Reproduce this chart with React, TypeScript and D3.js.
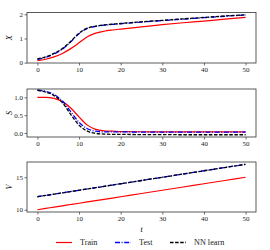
//@ts-nocheck
import { useEffect, useRef } from 'react';
import * as d3 from 'd3';

// time points
const tVals = [0, 2, 4, 6, 8, 10, 12, 14, 16, 18, 20, 25, 30, 35, 40, 45, 50];

// X
const xTrain = [0.08, 0.14, 0.24, 0.38, 0.58, 0.82, 1.07, 1.22, 1.3, 1.35, 1.39, 1.48, 1.57, 1.65, 1.72, 1.8, 1.87];
const xTest = [0.14, 0.22, 0.36, 0.56, 0.86, 1.2, 1.42, 1.5, 1.55, 1.58, 1.61, 1.68, 1.74, 1.8, 1.86, 1.92, 1.97];
const xNN = [0.15, 0.24, 0.38, 0.58, 0.88, 1.22, 1.43, 1.51, 1.56, 1.59, 1.62, 1.69, 1.75, 1.81, 1.87, 1.93, 1.98];

// S
const sTrain = [1.0, 1.0, 0.97, 0.88, 0.7, 0.45, 0.22, 0.1, 0.06, 0.05, 0.04, 0.035, 0.03, 0.03, 0.03, 0.03, 0.03];
const sTest = [1.2, 1.17, 1.08, 0.9, 0.6, 0.3, 0.12, 0.05, 0.03, 0.03, 0.03, 0.025, 0.025, 0.025, 0.025, 0.025, 0.025];
const sNN = [1.2, 1.15, 1.05, 0.85, 0.52, 0.22, 0.05, -0.01, -0.03, -0.04, -0.04, -0.045, -0.045, -0.05, -0.05, -0.05, -0.05];

// V
const vTrain = [10, 10.2, 10.4, 10.6, 10.8, 11, 11.2, 11.4, 11.6, 11.8, 12, 12.5, 13, 13.5, 14, 14.5, 15];
const vTest = [12, 12.2, 12.4, 12.6, 12.8, 13, 13.2, 13.4, 13.6, 13.8, 14, 14.5, 15, 15.5, 16, 16.5, 17];
const vNN = [12, 12.2, 12.4, 12.6, 12.8, 13, 13.2, 13.4, 13.6, 13.8, 14, 14.5, 15, 15.5, 16, 16.5, 17];

const xTicks = [0, 10, 20, 30, 40, 50];
const seriesNames = ['Train', 'Test', 'NN learn'];

const App = () => {
    const svgRef = useRef();

    useEffect(() => {
        const svg = d3.select(svgRef.current);
        svg.selectAll('*').remove();
        const font = 'Liberation Serif, DejaVu Serif, serif';
        const left = 27, right = 256;

        const x = d3.scaleLinear().domain([-2.5, 52.5]).range([left, right]);

        const styles = [
            { color: '#ff0000', dash: null, w: 1.2 },
            { color: '#0000ff', dash: '5,1.6,1,1.6', w: 1.3 },
            { color: '#000000', dash: '3.5,1.6', w: 1.3 },
        ];

        const panels = [
            { label: 'X', top: 12.5, bottom: 63, domain: [-0.015, 2.075], ticks: [0, 1, 2], fmt: d3.format('d'), data: [xTrain, xTest, xNN] },
            { label: 'S', top: 89, bottom: 137, domain: [-0.113, 1.235], ticks: [0, 0.5, 1], fmt: d3.format('.1f'), data: [sTrain, sTest, sNN] },
            { label: 'V', top: 162, bottom: 212, domain: [9.65, 17.35], ticks: [10, 15], fmt: d3.format('d'), data: [vTrain, vTest, vNN] },
        ];

        panels.forEach((p) => {
            const y = d3.scaleLinear().domain(p.domain).range([p.bottom, p.top]);
            const g = svg.append('g');

            // clip
            const clipId = 'clip-' + p.label;
            svg.append('clipPath').attr('id', clipId)
                .append('rect').attr('x', left).attr('y', p.top).attr('width', right - left).attr('height', p.bottom - p.top);

            const line = d3.line()
                .x((d, i) => x(tVals[i]))
                .y((d) => y(d))
                .curve(d3.curveMonotoneX);

            p.data.forEach((arr, k) => {
                const s = styles[k];
                g.append('path')
                    .attr('d', line(arr))
                    .attr('fill', 'none')
                    .attr('stroke', s.color)
                    .attr('stroke-width', s.w)
                    .attr('stroke-dasharray', s.dash)
                    .attr('clip-path', `url(#${clipId})`);
            });

            // frame
            g.append('rect')
                .attr('x', left).attr('y', p.top)
                .attr('width', right - left).attr('height', p.bottom - p.top)
                .attr('fill', 'none').attr('stroke', '#333').attr('stroke-width', 0.8);

            // x axis
            const xa = g.append('g').attr('transform', `translate(0,${p.bottom})`)
                .call(d3.axisBottom(x).tickValues(xTicks).tickSize(2.5).tickPadding(1.5));
            xa.select('.domain').remove();
            xa.selectAll('line').attr('stroke', '#333').attr('stroke-width', 0.7);
            xa.selectAll('text').attr('font-family', font).attr('font-size', 7).attr('fill', '#222');

            // y axis
            const ya = g.append('g').attr('transform', `translate(${left},0)`)
                .call(d3.axisLeft(y).tickValues(p.ticks).tickFormat(p.fmt).tickSize(2.5).tickPadding(1.5));
            ya.select('.domain').remove();
            ya.selectAll('line').attr('stroke', '#333').attr('stroke-width', 0.7);
            ya.selectAll('text').attr('font-family', font).attr('font-size', 7).attr('fill', '#222');

            // y label
            svg.append('text')
                .attr('transform', `translate(10,${(p.top + p.bottom) / 2}) rotate(-90)`)
                .attr('text-anchor', 'middle')
                .attr('dominant-baseline', 'middle')
                .attr('font-family', font)
                .attr('font-style', 'italic')
                .attr('font-size', 8)
                .text(p.label);
        });

        // t label
        svg.append('text')
            .attr('x', (left + right) / 2 + 0)
            .attr('y', 232)
            .attr('text-anchor', 'middle')
            .attr('font-family', font)
            .attr('font-style', 'italic')
            .attr('font-size', 8)
            .text('t');

        // legend
        const legendX = [56, 115, 170];
        seriesNames.forEach((name, k) => {
            const s = styles[k];
            const lg = svg.append('g').attr('transform', `translate(${legendX[k]},242.5)`);
            lg.append('line')
                .attr('x1', 0).attr('x2', 16)
                .attr('y1', 0).attr('y2', 0)
                .attr('stroke', s.color)
                .attr('stroke-width', s.w)
                .attr('stroke-dasharray', s.dash);
            lg.append('text')
                .attr('x', 24).attr('y', 2.8)
                .attr('font-family', font)
                .attr('font-size', 8.2)
                .attr('fill', '#222')
                .text(name);
        });
    }, []);

    return (
        <svg ref={svgRef} width={270} height={250} style={{ position: 'absolute', left: 0, top: 0 }}></svg>
    );
};

export default App;
